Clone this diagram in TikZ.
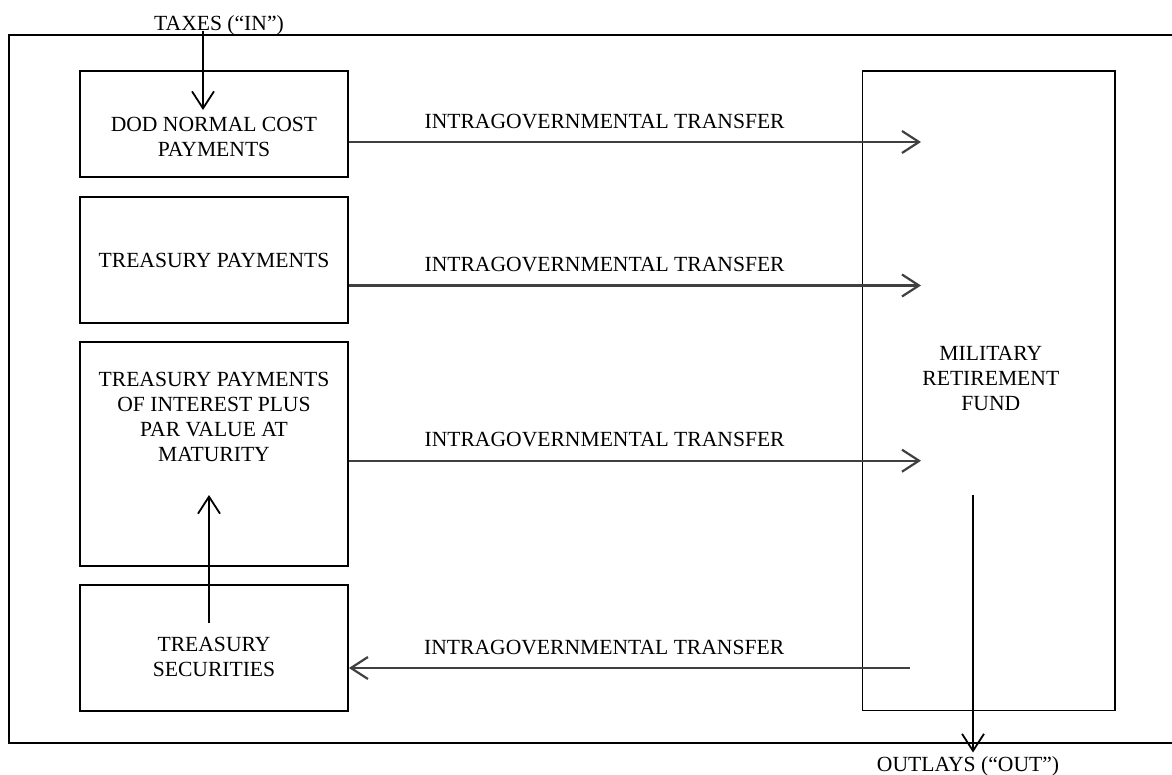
\documentclass[tikz,border=0pt]{standalone}
\usepackage{fontspec}
\setmainfont{Liberation Serif}
\usepackage{tikz}
\usetikzlibrary{arrows.meta}
\tikzset{>={Straight Barb[length=17pt, width=22pt]}}
\tikzstyle{box} = [rectangle, draw = black, line width = 1.8pt, inner sep = 0]
\tikzstyle{txt} = [draw = none, align = center, font = \fontsize{21.6}{25}\selectfont]
\tikzstyle{flow} = [->, draw = black!75, line width = 2.2pt]
\tikzstyle{feed} = [->, draw = black, line width = 1.8pt]

\begin{document}
\begin{tikzpicture}[x = 1pt, y = -1pt]
\useasboundingbox (0, 0) rectangle (1172, 774);
\draw [line width = 2pt] (1172, 35) -- (9, 35) -- (9, 743) -- (1172, 743);

% boxes
\node [box, minimum width = 268, minimum height = 106] (D) at (214, 124) {};
\node [box, minimum width = 268, minimum height = 126] (T) at (214, 259.7) {};
\node [box, minimum width = 268, minimum height = 223.7] (P) at (214, 453.9) {};
\node [box, minimum width = 268, minimum height = 125.7] (S) at (214, 647.9) {};
\node [box, line width = 1.4pt, minimum width = 252.3, minimum height = 639.7] (F) at (988.9, 390.9) {};

\node [txt] (Dt) at (214, 136.5) {DOD NORMAL COST\\PAYMENTS};
\node [txt] (Tt) at (214, 260.5) {TREASURY PAYMENTS};
\node [txt] (Pt) at (214, 417) {TREASURY PAYMENTS\\OF INTEREST PLUS\\PAR VALUE AT\\MATURITY};
\node [txt] (St) at (214, 657) {TREASURY\\SECURITIES};
\node [txt] (Ft) at (990.8, 378.5) {MILITARY\\RETIREMENT\\FUND};

\node [txt, anchor = base] (tax) at (219, 30.5) {TAXES (“IN”)};
\node [txt, anchor = base] (out) at (968, 771) {OUTLAYS (“OUT”)};

\coordinate (f1) at (921, 142);
\coordinate (f2) at (921, 285.5);
\coordinate (f3) at (921, 460.7);
\coordinate (f4) at (910, 668);
\coordinate (t0) at (203, 110);
\coordinate (o0) at (973, 495);
\coordinate (s0) at (209, 623);
\coordinate (s1) at (209, 495);

% transfers
\draw [flow] (D.east |- f1) -- node [txt, above = 9pt, pos = 0.447] (l1) {INTRAGOVERNMENTAL TRANSFER} (f1);
\draw [flow] (T.east |- f2) -- node [txt, above = 9pt, pos = 0.447] (l2) {INTRAGOVERNMENTAL TRANSFER} (f2);
\draw [flow] (P.east |- f3) -- node [txt, above = 9pt, pos = 0.447] (l3) {INTRAGOVERNMENTAL TRANSFER} (f3);
\draw [flow] (f4) -- node [txt, above = 9pt, pos = 0.545] (l4) {INTRAGOVERNMENTAL TRANSFER} (S.east |- f4);

\draw [feed] (tax.base -| t0) -- (t0);
\draw [feed] (o0) -- (o0 |- out.north);
\draw [feed] (s0) -- (s1);
\end{tikzpicture}
\end{document}
